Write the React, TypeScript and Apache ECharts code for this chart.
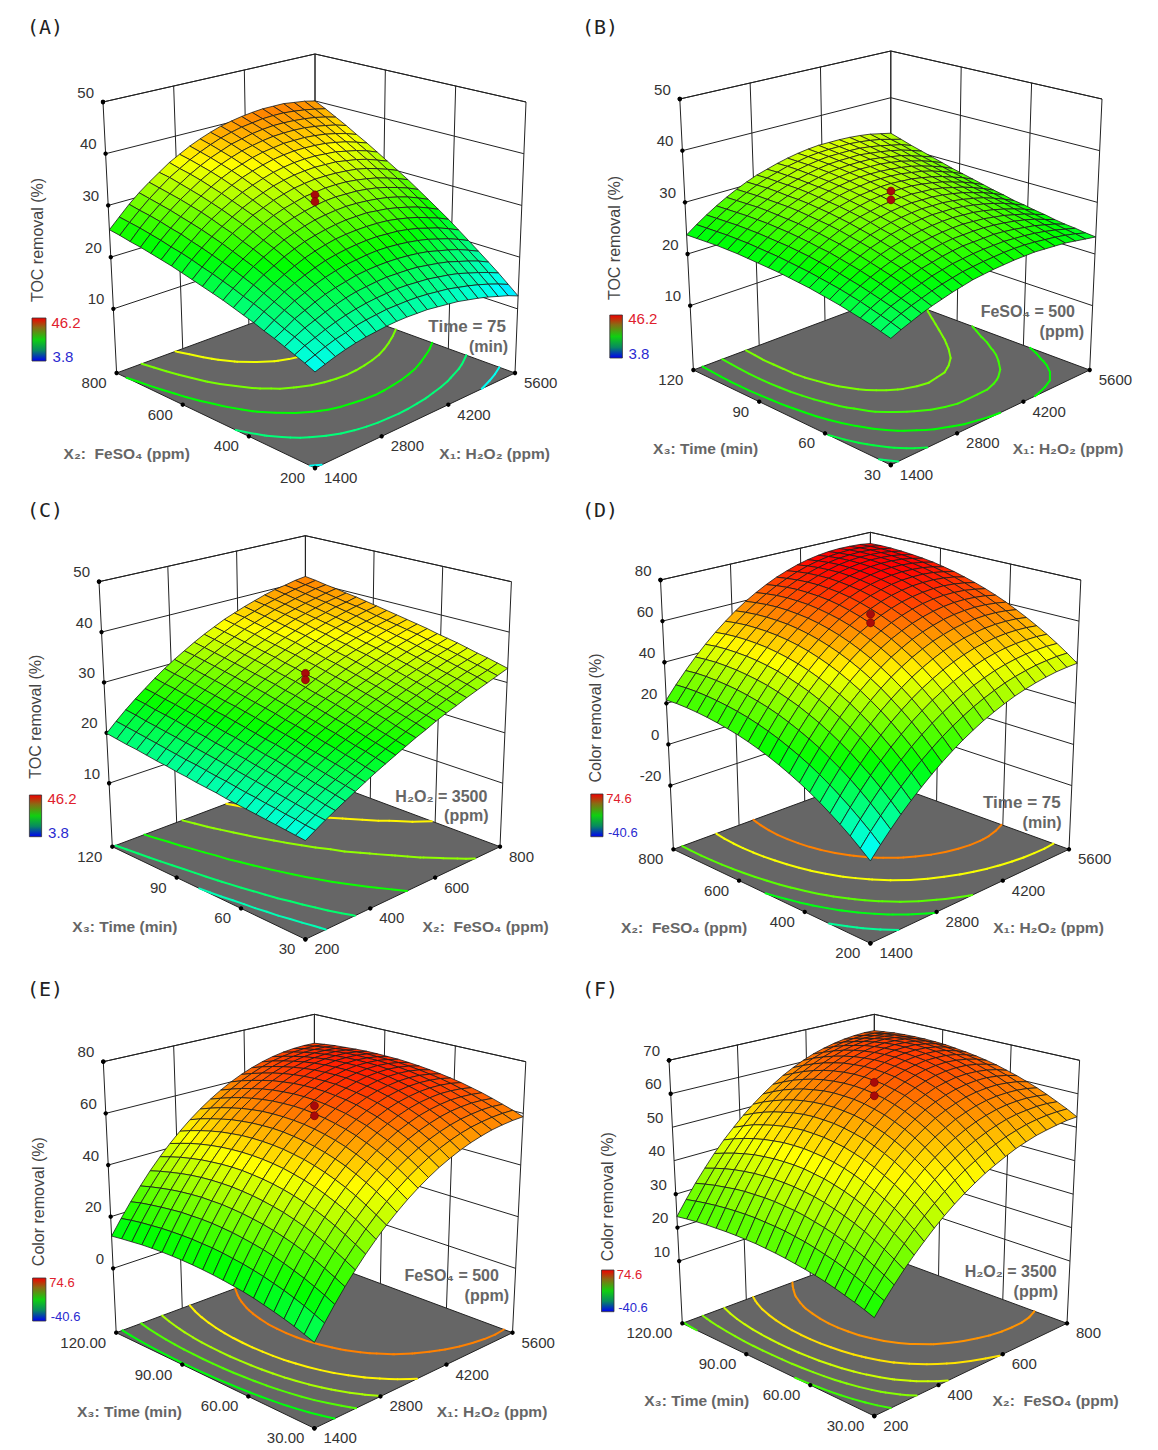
import React, { useEffect, useRef } from "react";
import * as echarts from "echarts";

// Response-surface heights, in tenths of a percent.
// Rows run along the second factor, columns along the first factor.
const surfaceA = [
[146,152,158,163,167,170,172,174,175,175,174,173,170,167,164,159,154,148,141,134,125],
[154,161,168,174,178,183,186,188,190,190,190,189,187,184,181,176,171,165,158,150,141],
[161,170,177,184,190,195,199,202,204,205,206,205,203,201,197,193,188,181,174,166,157],
[168,178,187,194,201,207,212,216,218,220,221,220,219,217,213,209,204,197,190,182,172],
[175,185,196,204,212,219,224,228,232,234,235,235,234,232,229,225,219,213,206,197,187],
[181,193,204,214,222,230,236,241,245,247,249,250,249,247,244,240,235,228,221,212,202],
[188,201,212,223,232,240,247,253,257,260,262,263,263,261,259,255,250,243,236,227,217],
[194,208,220,231,241,250,258,264,269,273,275,276,276,275,273,269,264,258,250,242,232],
[200,214,228,240,250,260,268,275,280,284,287,289,289,289,286,283,278,272,265,256,246],
[206,221,235,248,259,269,278,285,291,296,299,301,302,301,299,296,292,286,279,270,260],
[211,227,242,255,267,277,287,295,301,306,310,313,314,313,312,309,305,299,292,284,274],
[216,233,248,262,274,286,295,304,311,316,321,323,325,325,324,321,317,312,305,297,288],
[221,238,254,269,282,293,304,312,320,326,331,334,336,336,335,333,330,325,318,310,301],
[226,244,260,275,288,300,311,320,328,335,340,344,346,347,346,345,341,337,331,323,314],
[231,249,265,281,295,307,318,328,336,343,349,353,356,357,357,355,353,348,343,336,327],
[235,253,271,286,301,313,325,335,344,351,357,362,365,367,367,366,364,360,355,348,340],
[239,258,275,291,306,319,331,342,351,358,365,370,373,376,376,376,374,371,366,360,352],
[243,262,280,296,311,324,337,348,357,365,372,377,381,384,385,385,384,381,377,372,365],
[246,266,284,300,315,329,342,353,363,371,379,384,389,392,394,394,393,391,388,383,377],
[250,269,287,304,319,334,346,358,368,377,385,391,396,399,402,403,403,401,398,394,389],
[253,272,291,308,323,337,351,362,373,382,390,397,402,406,409,411,411,411,408,405,400]
];
const surfaceB = [
[199,207,214,221,227,232,237,241,245,247,249,250,251,251,251,249,247,245,241,237,233],
[204,213,221,228,234,240,245,249,253,255,257,258,259,259,258,256,253,250,246,241,235],
[209,218,227,234,241,247,253,257,261,263,265,266,266,266,264,262,259,255,250,244,238],
[213,223,232,240,248,254,260,264,268,271,273,273,273,273,271,268,264,260,254,248,240],
[217,228,237,246,254,261,266,271,275,278,280,280,280,279,277,274,270,265,259,251,243],
[221,232,242,251,259,266,272,277,281,284,286,287,287,285,283,279,275,269,263,255,247],
[224,236,246,256,264,272,278,283,287,290,292,293,293,291,289,285,280,274,267,259,250],
[227,239,250,260,269,277,283,289,293,296,298,299,298,297,294,290,285,279,272,263,254],
[230,242,254,264,273,281,288,293,298,301,303,304,303,302,299,295,290,284,276,267,257],
[232,245,257,268,277,285,292,298,302,306,308,309,308,307,304,300,295,288,281,272,262],
[234,247,260,270,280,289,296,302,306,310,312,313,313,311,309,305,299,293,285,276,266],
[236,249,262,273,283,292,299,305,310,314,316,317,317,316,313,309,304,297,290,281,271],
[237,251,264,275,285,294,302,308,313,317,319,321,321,319,317,313,308,302,294,286,276],
[238,252,265,277,287,296,304,310,316,320,322,324,324,323,321,317,313,307,299,291,281],
[239,253,266,278,288,298,306,312,318,322,325,327,327,326,324,321,317,311,304,296,286],
[240,254,267,279,289,299,307,314,319,324,327,329,330,329,328,325,321,315,309,301,292],
[240,254,267,279,290,299,307,315,320,325,329,331,332,332,331,328,324,320,313,306,298],
[240,254,267,279,290,299,308,315,321,326,330,333,334,334,334,331,328,324,319,312,304],
[239,253,266,278,289,299,308,315,321,327,331,334,336,336,336,335,332,328,323,318,310],
[238,252,265,277,288,298,307,315,321,327,331,335,337,338,338,338,336,333,329,323,317],
[237,251,264,276,287,297,306,314,320,326,331,335,338,340,340,340,339,337,334,329,324]
];
const surfaceC = [
[152,163,174,184,194,204,214,224,233,242,251,260,268,277,285,292,300,307,314,321,328],
[154,165,176,187,198,208,218,228,238,247,256,265,274,282,290,298,305,313,320,326,333],
[156,168,179,191,202,212,223,233,243,252,261,270,279,287,295,303,311,318,325,331,338],
[158,170,182,194,205,216,227,237,247,257,266,276,284,293,301,309,316,323,330,336,342],
[160,173,185,197,209,220,231,242,252,262,271,281,289,298,306,314,321,328,335,341,347],
[162,175,188,200,212,224,235,246,257,267,276,286,295,303,311,319,326,333,340,346,352],
[164,178,191,204,216,228,239,251,261,271,281,291,300,308,316,324,331,338,344,350,356],
[166,180,194,207,220,232,244,255,266,276,286,296,305,313,321,329,336,343,349,355,360],
[168,183,197,210,223,236,248,259,270,281,291,300,310,318,326,334,341,348,354,360,365],
[171,186,200,214,227,239,252,263,275,285,295,305,314,323,331,339,346,352,358,364,369],
[173,188,203,217,230,243,256,268,279,290,300,310,319,328,336,343,350,357,363,368,373],
[175,191,206,220,234,247,260,272,283,294,305,314,324,332,340,348,355,361,367,372,377],
[178,194,209,223,237,251,264,276,288,299,309,319,328,337,345,352,359,366,371,376,381],
[180,196,212,227,241,255,268,280,292,303,313,323,333,341,349,357,364,370,376,381,385],
[183,199,215,230,244,258,271,284,296,307,318,328,337,346,354,361,368,374,380,385,389],
[185,202,218,233,248,262,275,288,300,311,322,332,341,350,358,366,372,378,384,388,393],
[188,205,221,237,251,266,279,292,304,315,326,336,345,354,362,370,376,382,388,392,396],
[191,208,224,240,255,269,283,296,308,319,330,340,350,358,366,374,380,386,391,396,400],
[193,211,227,243,258,273,287,300,312,323,334,344,354,362,370,378,384,390,395,400,403],
[196,214,231,247,262,276,290,303,316,327,338,348,358,367,374,382,388,394,399,403,407],
[199,217,234,250,265,280,294,307,319,331,342,352,362,370,378,385,392,398,402,407,410]
];
const surfaceD = [
[-143,-90,-40,8,52,94,133,170,204,235,263,289,311,331,349,363,375,384,391,394,395],
[-106,-50,2,51,97,141,181,218,253,284,312,338,360,379,396,409,419,427,431,433,431],
[-70,-13,41,92,140,184,226,264,299,330,358,384,406,424,440,452,461,467,469,469,465],
[-37,22,78,131,180,225,267,306,341,373,401,426,448,466,481,492,500,504,505,503,497],
[-6,55,113,166,217,263,306,345,381,413,441,466,487,505,519,529,536,539,538,534,526],
[24,86,145,200,251,298,342,381,417,450,478,503,524,541,554,563,569,571,569,564,554],
[51,115,174,230,282,330,374,415,451,483,512,536,557,573,586,595,600,601,598,591,580],
[76,141,202,258,311,360,404,445,481,514,542,567,587,603,616,624,628,628,624,616,605],
[99,165,226,284,337,386,431,472,509,541,570,594,614,630,642,650,654,653,648,640,627],
[120,186,248,306,360,409,455,496,533,565,594,618,638,654,666,673,676,675,670,660,647],
[139,206,268,327,381,430,476,517,554,587,615,639,659,675,686,693,696,695,689,679,665],
[156,223,286,344,398,448,494,535,572,605,633,657,677,693,704,711,713,712,706,696,681],
[171,238,301,359,413,463,509,550,587,620,648,672,692,707,719,726,728,727,721,710,696],
[184,251,313,372,426,475,521,562,599,631,660,684,704,719,730,737,740,738,733,722,708],
[194,261,323,381,435,484,530,571,608,640,669,693,712,728,739,747,749,748,742,733,719],
[203,269,331,388,442,491,536,577,613,646,674,698,718,734,745,753,756,755,750,740,727],
[210,275,336,393,446,494,539,579,616,648,676,701,721,737,748,756,760,759,755,746,733],
[215,279,339,395,447,495,539,579,616,648,676,700,720,736,749,757,761,761,758,750,738],
[218,281,340,395,446,493,537,576,612,644,672,696,717,733,746,755,759,761,758,751,741],
[219,280,338,391,442,488,531,570,605,637,665,689,710,727,740,750,755,758,756,751,742],
[216,276,332,385,434,480,522,561,596,627,655,680,700,718,732,742,749,752,751,748,740]
];
const surfaceE = [
[54,107,158,206,251,293,332,369,402,433,461,486,509,528,545,559,570,579,584,587,587],
[67,123,176,225,272,315,356,393,428,459,487,512,535,554,570,583,593,599,603,604,602],
[80,138,192,243,291,336,378,416,451,483,511,536,558,577,592,604,613,618,621,620,615],
[91,151,207,260,309,355,398,437,472,504,533,558,580,598,612,624,632,636,637,634,628],
[101,163,220,275,325,372,415,455,491,523,552,577,599,616,631,641,648,652,651,647,640],
[110,173,232,288,339,387,431,471,508,540,569,594,615,633,647,657,663,666,664,659,650],
[119,183,243,299,351,400,445,485,522,555,584,609,630,648,661,670,676,678,676,670,660],
[126,191,252,309,362,411,456,497,534,567,596,621,642,660,673,682,687,688,685,679,668],
[132,198,259,317,370,420,465,507,544,577,606,632,653,670,683,691,696,697,694,686,675],
[137,203,265,323,377,427,473,514,552,585,614,639,661,677,690,699,704,704,701,693,681],
[141,208,270,328,382,432,478,520,557,591,620,645,666,683,696,705,709,710,706,698,686],
[144,211,273,331,385,435,481,523,561,594,624,649,670,687,700,708,713,714,710,702,690],
[146,212,275,333,387,437,482,524,562,595,625,650,671,688,701,710,715,715,712,704,693],
[147,213,275,332,386,436,481,523,560,594,623,649,670,687,700,709,714,715,712,705,694],
[147,212,273,331,384,433,478,520,557,591,620,645,667,684,698,707,713,714,712,706,695],
[146,210,271,327,380,428,473,514,551,585,614,640,661,679,693,703,709,711,710,704,695],
[144,207,266,322,374,422,466,507,544,577,606,632,654,672,686,697,703,706,706,701,693],
[141,202,260,315,366,413,457,497,533,566,596,621,643,662,677,688,696,700,700,697,690],
[136,197,253,306,356,403,446,485,521,554,583,609,631,650,666,678,686,692,693,692,687],
[131,190,245,296,345,390,432,471,507,539,568,594,617,636,653,666,675,682,685,685,682],
[125,181,234,284,332,376,417,455,490,522,551,577,600,620,637,651,662,670,675,677,676]
];
const surfaceF = [
[182,217,249,280,309,336,362,386,408,428,446,463,477,490,502,511,519,524,528,531,531],
[192,229,265,298,330,359,386,411,434,455,474,490,505,517,528,536,543,547,549,549,547],
[201,241,279,315,348,379,408,434,458,480,499,516,530,542,552,560,565,567,568,566,561],
[209,252,293,330,365,398,428,455,480,502,522,539,553,565,574,581,585,586,585,581,575],
[217,262,304,344,381,414,446,474,499,522,542,559,574,585,594,600,603,603,601,596,588],
[224,271,315,356,394,429,461,491,517,540,560,578,592,603,612,617,619,619,615,609,599],
[230,278,324,366,406,442,475,505,532,556,576,594,608,619,627,632,634,633,628,621,610],
[235,285,332,375,416,453,487,517,545,569,590,607,621,633,640,645,646,644,639,631,619],
[239,291,338,383,424,462,496,528,555,580,601,619,633,644,652,656,657,655,649,640,628],
[243,295,344,389,431,469,504,535,564,588,610,627,642,653,661,665,666,663,657,648,635],
[246,299,348,393,435,474,509,541,570,595,616,634,649,660,667,672,672,670,664,654,641],
[248,301,350,396,439,477,513,545,573,599,620,638,653,664,672,676,677,675,669,659,646],
[250,302,352,397,440,479,514,546,575,600,622,640,655,667,675,679,680,678,672,663,650],
[250,303,352,397,439,478,514,546,574,600,621,640,655,667,675,680,681,680,674,666,654],
[250,302,350,395,437,476,511,543,571,597,618,637,652,664,673,678,681,679,675,667,656],
[249,300,348,392,433,471,506,538,566,591,613,632,648,660,669,675,678,677,674,667,657],
[247,297,344,387,428,465,499,530,559,584,606,625,640,653,663,670,673,674,671,665,657],
[245,293,338,381,420,457,490,521,549,574,596,615,631,644,655,662,667,668,667,663,656],
[242,288,332,373,411,447,480,510,537,562,584,603,619,633,644,653,658,661,661,659,654],
[238,282,324,363,400,435,466,496,523,547,569,588,605,620,631,641,648,652,654,653,650],
[233,275,315,352,388,421,451,480,506,530,552,572,589,604,617,627,635,641,645,647,646]
];

// Centre design points (two heights per panel), %.
const designA = [33.1, 31.8];
const designB = [33.2, 31.5];
const designC = [32.8, 31.5];
const designD = [66.0, 61.8];
const designE = [65.1, 61.2];
const designF = [65.0, 61.0];

// Axis ticks.
const h2o2Ticks = ["1400", "2800", "4200", "5600"];
const feso4Ticks = ["200", "400", "600", "800"];
const timeTicks = ["30", "60", "90", "120"];
const timeTicksLong = ["30.00", "60.00", "90.00", "120.00"];
const tocTicks = [10, 20, 30, 40, 50];
const colorTicksD = [-20, 0, 20, 40, 60, 80];
const colorTicksE = [0, 20, 40, 60, 80];
const colorTicksF = [10, 20, 30, 40, 50, 60, 70];

// Contour levels on the floor.
const levelsA = [15, 20, 25, 30, 35];
const levelsB = [20.5, 22.5, 25, 27.5, 30];
const levelsC = [17.5, 20.5, 25.5, 31, 36];
const levelsD = [0, 15, 27, 45, 60];
const levelsE = [16, 26, 36, 47, 60];
const levelsF = [24, 32, 40, 49, 58];

// Colour scales.
const tocRange = [3.8, 46.2];
const colorRange = [-40.6, 74.6];

const FONT = '"Liberation Sans", Arial, sans-serif';
type P = [number, number];

interface Panel {
  letter: string; lx: number; ly: number;
  N: P; R: P; B: P; L: P; TL: P; TB: P; TR: P;
  zFloor: number; zTop: number; zTicks: number[];
  uTicks: string[]; vTicks: string[];
  grid: number[][]; design: number[]; levels: number[]; range: number[];
  yTitle: string; yPos: P; uTitle: string; uPos: P; vTitle: string; vPos: P;
  note: string[]; noteR: [number, number]; noteY: [number, number]; noteSize: number;
  cb: [number, number, number, number]; hiPos: P; loPos: P; cbSize: number;
}

const TOC = "TOC removal (%)";
const COL = "Color removal (%)";
const X1 = "X₁: H₂O₂ (ppm)";
const X2 = "X₂:  FeSO₄ (ppm)";
const X3 = "X₃: Time (min)";

const panels: Panel[] = [
  { letter: "(A)", lx: 45, ly: 27, N: [315, 468], R: [515, 373], B: [315, 300], L: [116.6, 373], TL: [103, 102], TB: [315, 54], TR: [526, 102],
    zFloor: -2.4, zTop: 50, zTicks: tocTicks, uTicks: h2o2Ticks, vTicks: feso4Ticks, grid: surfaceA, design: designA, levels: levelsA, range: tocRange,
    yTitle: TOC, yPos: [37.7, 240], uTitle: X1, uPos: [494.6, 453], vTitle: X2, vPos: [126.7, 453],
    note: ["Time = 75", "(min)"], noteR: [506, 508], noteY: [326.7, 346.7], noteSize: 17, cb: [32, 318, 14, 43], hiPos: [66, 322], loPos: [63, 356], cbSize: 15 },
  { letter: "(B)", lx: 600, ly: 27, N: [890.8, 465], R: [1089.7, 370], B: [890.8, 296], L: [693.4, 370], TL: [679.8, 99], TB: [890.8, 51], TR: [1102, 99],
    zFloor: -2.45, zTop: 50, zTicks: tocTicks, uTicks: h2o2Ticks, vTicks: timeTicks, grid: surfaceB, design: designB, levels: levelsB, range: tocRange,
    yTitle: TOC, yPos: [614.8, 238], uTitle: X1, uPos: [1068, 448.3], vTitle: X3, vPos: [705.6, 448.3],
    note: ["FeSO₄ = 500", "(ppm)"], noteR: [1075, 1084], noteY: [311.7, 331.7], noteSize: 16, cb: [609.8, 315, 12.6, 43], hiPos: [642.8, 318], loPos: [639, 353], cbSize: 15 },
  { letter: "(C)", lx: 45, ly: 510, N: [305.4, 939.3], R: [500, 846.7], B: [305.4, 774], L: [112.3, 846.7], TL: [99, 581.7], TB: [305.4, 535.7], TR: [511.4, 581.7],
    zFloor: -2.6, zTop: 50, zTicks: tocTicks, uTicks: feso4Ticks, vTicks: timeTicks, grid: surfaceC, design: designC, levels: levelsC, range: tocRange,
    yTitle: TOC, yPos: [35.8, 716.7], uTitle: X2, uPos: [485.6, 926], vTitle: X3, vPos: [124.9, 926],
    note: ["H₂O₂ = 3500", "(ppm)"], noteR: [487.4, 488.5], noteY: [796.7, 815.7], noteSize: 16, cb: [29.4, 795, 12.2, 41.7], hiPos: [62, 798], loPos: [58.5, 832], cbSize: 15 },
  { letter: "(D)", lx: 600, ly: 510, N: [870.4, 943.3], R: [1069, 849.3], B: [870.4, 777], L: [673.4, 849.3], TL: [660.5, 580], TB: [870.4, 532.3], TR: [1080.8, 580],
    zFloor: -51, zTop: 80, zTicks: colorTicksD, uTicks: h2o2Ticks, vTicks: feso4Ticks, grid: surfaceD, design: designD, levels: levelsD, range: colorRange,
    yTitle: COL, yPos: [595.8, 718], uTitle: X1, uPos: [1048.5, 927.7], vTitle: X2, vPos: [684, 927.7],
    note: ["Time = 75", "(min)"], noteR: [1060.7, 1061.7], noteY: [802.7, 822.3], noteSize: 17, cb: [590.8, 794, 12.2, 42.7], hiPos: [619, 798], loPos: [622.8, 832], cbSize: 13 },
  { letter: "(E)", lx: 45, ly: 989, N: [314.4, 1428.3], R: [512.5, 1332.7], B: [314.4, 1259], L: [116.2, 1332.7], TL: [103.3, 1061.7], TB: [314.4, 1014.3], TR: [525.8, 1061.7],
    zFloor: -24.9, zTop: 80, zTicks: colorTicksE, uTicks: h2o2Ticks, vTicks: timeTicksLong, grid: surfaceE, design: designE, levels: levelsE, range: colorRange,
    yTitle: COL, yPos: [38, 1201.7], uTitle: X1, uPos: [492, 1411], vTitle: X3, vPos: [129.5, 1411],
    note: ["FeSO₄ = 500", "(ppm)"], noteR: [498.9, 509], noteY: [1275, 1295], noteSize: 16, cb: [32.6, 1278, 13.3, 43], hiPos: [62, 1282.7], loPos: [65.6, 1316.7], cbSize: 13 },
  { letter: "(F)", lx: 600, ly: 989, N: [874.3, 1416], R: [1067, 1323.3], B: [874.3, 1252], L: [682.3, 1323.3], TL: [669, 1060.3], TB: [874.3, 1014.3], TR: [1079.6, 1060.3],
    zFloor: -8.6, zTop: 70, zTicks: colorTicksF, uTicks: feso4Ticks, vTicks: timeTicksLong, grid: surfaceF, design: designF, levels: levelsF, range: colorRange,
    yTitle: COL, yPos: [607, 1196.7], uTitle: X2, uPos: [1055.6, 1400], vTitle: X3, vPos: [696.7, 1400],
    note: ["H₂O₂ = 3500", "(ppm)"], noteR: [1056.7, 1058], noteY: [1271.7, 1291], noteSize: 16, cb: [601.5, 1270, 12.5, 41.7], hiPos: [629.5, 1274], loPos: [633, 1307.3], cbSize: 13 },
];

function quad(p00: P, p10: P, p11: P, p01: P) {
  return (u: number, v: number): P => [
    p00[0] * (1 - u) * (1 - v) + p10[0] * u * (1 - v) + p11[0] * u * v + p01[0] * (1 - u) * v,
    p00[1] * (1 - u) * (1 - v) + p10[1] * u * (1 - v) + p11[1] * u * v + p01[1] * (1 - u) * v,
  ];
}

function projector(p: Panel) {
  const hL = p.L[1] - p.TL[1], hB = p.B[1] - p.TB[1];
  const hN = 2 * hL - hB;
  const floor = quad(p.N, p.R, p.B, p.L);
  const top = quad([p.N[0], p.N[1] - hN], p.TR, p.TB, p.TL);
  return (u: number, v: number, z: number): P => {
    const f = floor(u, v), t = top(u, v);
    const w = (z - p.zFloor) / (p.zTop - p.zFloor);
    return [f[0] + (t[0] - f[0]) * w, f[1] + (t[1] - f[1]) * w];
  };
}

const RAMP = [[0, 0, 255], [0, 255, 255], [0, 255, 0], [255, 255, 0], [255, 0, 0]];
function ramp(z: number, range: number[]) {
  const s = Math.min(0.9999, Math.max(0, (z - range[0]) / (range[1] - range[0]))) * 4;
  const k = Math.floor(s), f = s - k;
  const c = RAMP[k].map((x, n) => Math.round(x + (RAMP[k + 1][n] - x) * f));
  return `rgb(${c[0]},${c[1]},${c[2]})`;
}

const K_LINE = 0, K_FLOOR = 1, K_CONTOUR = 2, K_CELL = 3, K_TICK = 4, K_DESIGN = 5;

function contourSegments(g: number[][], level: number) {
  const out: number[][] = [];
  const n = g.length - 1;
  for (let j = 0; j < n; j++) for (let i = 0; i < n; i++) {
    const c = [[i, j, g[j][i]], [i + 1, j, g[j][i + 1]], [i + 1, j + 1, g[j + 1][i + 1]], [i, j + 1, g[j + 1][i]]];
    const pts: number[][] = [];
    for (let e = 0; e < 4; e++) {
      const a = c[e], b = c[(e + 1) % 4];
      if ((a[2] < level) !== (b[2] < level)) {
        const f = (level - a[2]) / (b[2] - a[2]);
        pts.push([(a[0] + (b[0] - a[0]) * f) / n, (a[1] + (b[1] - a[1]) * f) / n]);
      }
    }
    if (pts.length >= 2) out.push([pts[0][0], pts[0][1], pts[1][0], pts[1][1]]);
    if (pts.length === 4) out.push([pts[2][0], pts[2][1], pts[3][0], pts[3][1]]);
  }
  return out;
}

function buildRows(p: Panel) {
  const rows: number[][] = [];
  const g = p.grid.map((r) => r.map((x) => x / 10));
  const n = g.length - 1;
  const line = (a: number, b: number, c: number, d: number, e: number, f: number) => rows.push([K_LINE, a, b, c, d, e, f, 0]);
  const tu = p.uTicks.map((_, k) => k / (p.uTicks.length - 1));
  const tv = p.vTicks.map((_, k) => k / (p.vTicks.length - 1));
  for (const z of [...p.zTicks, p.zTop]) {
    line(0, 1, z, 1, 1, z);
    line(1, 1, z, 1, 0, z);
  }
  for (const u of tu) line(u, 1, p.zFloor, u, 1, p.zTop);
  for (const v of tv) line(1, v, p.zFloor, 1, v, p.zTop);
  rows.push([K_FLOOR, 0, 0, 0, 0, 0, 0, 0]);
  line(0, 0, p.zFloor, 1, 0, p.zFloor);
  line(0, 0, p.zFloor, 0, 1, p.zFloor);
  line(1, 0, p.zFloor, 1, 1, p.zFloor);
  line(0, 1, p.zFloor, 1, 1, p.zFloor);
  for (const lv of p.levels) {
    for (const s of contourSegments(g, lv)) rows.push([K_CONTOUR, s[0], s[1], s[2], s[3], lv, 0, 0]);
  }
  for (const z of p.zTicks) rows.push([K_TICK, 0, 1, z, 0, 0, 0, 0]);
  for (const v of tv) rows.push([K_TICK, 0, v, p.zFloor, 0, 0, 0, 0]);
  for (const u of tu) rows.push([K_TICK, u, 0, p.zFloor, 0, 0, 0, 0]);
  rows.push([K_TICK, 0, 1, p.zTop, 0, 0, 0, 0]);
  for (let s = 2 * n - 2; s >= 0; s--) {
    for (let j = 0; j < n; j++) {
      const i = s - j;
      if (i < 0 || i >= n) continue;
      rows.push([K_CELL, i / n, j / n, 1 / n, g[j][i], g[j][i + 1], g[j + 1][i + 1], g[j + 1][i]]);
    }
  }
  for (const z of p.design) rows.push([K_DESIGN, 0.5, 0.5, z, 0, 0, 0, 0]);
  return rows;
}

function seriesFor(p: Panel) {
  const project = projector(p);
  return {
    type: "custom",
    coordinateSystem: "cartesian2d",
    silent: true,
    clip: false,
    progressive: 0,
    data: buildRows(p),
    renderItem: (_: unknown, api: any) => {
      const kind = api.value(0);
      const a = api.value(1), b = api.value(2), c = api.value(3), d = api.value(4), e = api.value(5), f = api.value(6), h = api.value(7);
      const at = (u: number, v: number, z: number) => api.coord(project(u, v, z));
      if (kind === K_LINE) {
        const s = at(a, b, c), t = at(d, e, f);
        return { type: "line", shape: { x1: s[0], y1: s[1], x2: t[0], y2: t[1] }, style: { stroke: "#222", lineWidth: 1 } };
      }
      if (kind === K_FLOOR) {
        return { type: "polygon", shape: { points: [at(0, 0, p.zFloor), at(1, 0, p.zFloor), at(1, 1, p.zFloor), at(0, 1, p.zFloor)] }, style: { fill: "#666666" } };
      }
      if (kind === K_CONTOUR) {
        const s = at(a, b, p.zFloor), t = at(c, d, p.zFloor);
        return { type: "line", shape: { x1: s[0], y1: s[1], x2: t[0], y2: t[1] }, style: { stroke: ramp(e, p.range), lineWidth: 2, lineCap: "round" } };
      }
      if (kind === K_CELL) {
        const w = c;
        const pts = [at(a, b, d), at(a + w, b, e), at(a + w, b + w, f), at(a, b + w, h)];
        return { type: "polygon", shape: { points: pts }, style: { fill: ramp((d + e + f + h) / 4, p.range), stroke: "#1a1a1a", lineWidth: 0.8 } };
      }
      if (kind === K_TICK) {
        const s = at(a, b, c);
        return { type: "circle", shape: { cx: s[0], cy: s[1], r: 2.2 }, style: { fill: "#000" } };
      }
      const s = at(a, b, c);
      return { type: "circle", shape: { cx: s[0], cy: s[1], r: 4 }, style: { fill: "#a80a0a", stroke: "#6d0000", lineWidth: 0.6 } };
    },
  };
}

function label(text: string, x: number, y: number, opts: any = {}) {
  const { size = 15, color = "#333", weight = "normal", align = "center", rotation = 0, family = FONT } = opts;
  return {
    type: "text", x, y, rotation, silent: true, z: 10,
    style: { text, fill: color, font: `${weight} ${size}px ${family}`, align, verticalAlign: "middle", textAlign: align, textVerticalAlign: "middle" },
  };
}

function graphicsFor(p: Panel) {
  const project = projector(p);
  const items: any[] = [];
  items.push(label(p.letter, p.lx, p.ly, { size: 20, family: '"DejaVu Sans Mono", monospace', color: "#222" }));
  p.zTicks.forEach((z) => {
    const t = project(0, 1, z);
    items.push(label(String(z), t[0] - 9, t[1] - 10, { align: "right" }));
  });
  p.vTicks.forEach((s, k) => {
    const t = project(0, k / (p.vTicks.length - 1), p.zFloor);
    items.push(label(s, t[0] - 10, t[1] + 9.5, { align: "right" }));
  });
  p.uTicks.forEach((s, k) => {
    const t = project(k / (p.uTicks.length - 1), 0, p.zFloor);
    items.push(label(s, t[0] + 9, t[1] + 9.5, { align: "left" }));
  });
  items.push(label(p.yTitle, p.yPos[0], p.yPos[1], { size: 16, color: "#444", rotation: Math.PI / 2 }));
  items.push(label(p.uTitle, p.uPos[0], p.uPos[1], { size: 15.5, weight: "bold", color: "#666" }));
  items.push(label(p.vTitle, p.vPos[0], p.vPos[1], { size: 15.5, weight: "bold", color: "#666" }));
  p.note.forEach((s, k) => items.push(label(s, p.noteR[k], p.noteY[k], { size: k === 0 ? p.noteSize : 16, weight: "bold", color: "#666", align: "right" })));
  items.push({
    type: "rect", silent: true, z: 10,
    shape: { x: p.cb[0], y: p.cb[1], width: p.cb[2], height: p.cb[3] },
    style: {
      stroke: "#333", lineWidth: 0.8,
      fill: new echarts.graphic.LinearGradient(0, 0, 0, 1, [
        { offset: 0, color: "#f00000" }, { offset: 0.22, color: "#8a6a14" }, { offset: 0.5, color: "#10d010" },
        { offset: 0.75, color: "#088a60" }, { offset: 1, color: "#0000f0" },
      ]),
    },
  });
  items.push(label(p.range[1].toFixed(1), p.hiPos[0], p.hiPos[1], { size: p.cbSize, color: "#e0202c" }));
  items.push(label(p.range[0].toFixed(1), p.loPos[0], p.loPos[1], { size: p.cbSize, color: "#2a2ad0" }));
  return items;
}

export default function App() {
  const ref = useRef<HTMLDivElement>(null);
  useEffect(() => {
    if (!ref.current) return;
    const chart = echarts.init(ref.current, null, { renderer: "svg" });
    chart.setOption({
      animation: false,
      backgroundColor: "#fff",
      grid: { left: 0, right: 0, top: 0, bottom: 0 },
      xAxis: { type: "value", min: 0, max: 1158, show: false },
      yAxis: { type: "value", min: 0, max: 1450, inverse: true, show: false },
      series: panels.map(seriesFor),
      graphic: panels.flatMap(graphicsFor),
    });
    return () => chart.dispose();
  }, []);
  return <div ref={ref} style={{ position: "absolute", left: 0, top: 0, width: 1158, height: 1450 }} />;
}
